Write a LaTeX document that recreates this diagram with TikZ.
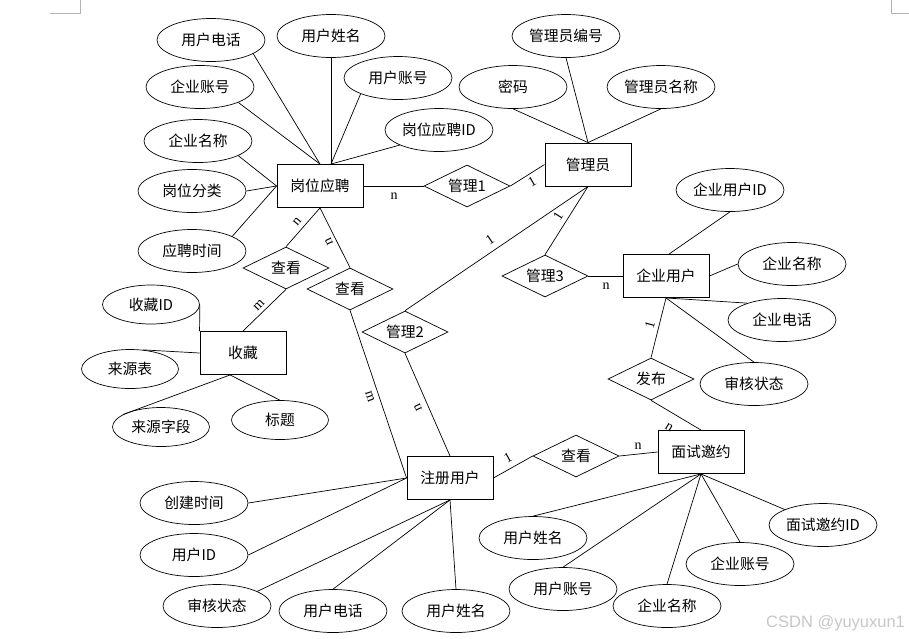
\documentclass[tikz,border=0pt]{standalone}
\usepackage{fontspec}
\newfontfamily\cjk{Noto Sans CJK SC}
\newfontfamily\labfont{Liberation Serif}
\newfontfamily\wmfont{Liberation Sans}
\usetikzlibrary{shapes.geometric}
\begin{document}
\begin{tikzpicture}[x=1pt,y=-1pt,
  txt/.style={font=\cjk\fontsize{14.8}{16}\selectfont},
  ent/.style={txt, draw, line width=0.9pt, rectangle, minimum width=86pt, minimum height=43pt, inner sep=0pt},
  att/.style={txt, draw, line width=0.7pt, ellipse, minimum width=108pt, minimum height=43pt, inner sep=0pt},
  atts/.style={att, minimum width=97pt, minimum height=39pt},
  rel/.style={txt, draw, line width=0.7pt, diamond, aspect=2, minimum width=86pt, minimum height=42pt, inner sep=0pt},
  con/.style={line width=0.7pt},
  lab/.style={font=\labfont\fontsize{14}{14}\selectfont, inner sep=0pt},
  cornermark/.style={draw=black!30, line width=0.6pt}
]
\useasboundingbox (0,0) rectangle (909,638);

% corner marks
\draw[cornermark] (50,13) coordinate (m1) -- (80,13) coordinate (m2) -- (80,0) coordinate (m3);
\draw[cornermark] (891,0) coordinate (m4) -- (891,13) coordinate (m5) -- (909,13) coordinate (m6);

% entities
\node[ent] (gw) at (320,186) {岗位应聘};
\node[ent] (gly) at (588,164.5) {管理员};
\node[ent] (qy) at (666,276) {企业用户};
\node[ent] (sc) at (243,353) {收藏};
\node[ent] (zc) at (450,478) {注册用户};
\node[ent] (ms) at (701,452) {面试邀约};

% relations
\node[rel] (gl1) at (467,186) {管理1};
\node[rel] (ck1) at (286,268) {查看};
\node[rel] (ck2) at (350,289) {查看};
\node[rel] (gl2) at (405,332) {管理2};
\node[rel] (gl3) at (545,276) {管理3};
\node[rel] (fb) at (651,379) {发布};
\node[rel] (ck3) at (576,456) {查看};

% attributes of 岗位应聘
\node[att] (a1) at (211,40) {用户电话};
\node[att] (a2) at (331,36) {用户姓名};
\node[att] (a3) at (398,78) {用户账号};
\node[att] (a4) at (200,87) {企业账号};
\node[att] (a5) at (439,130) {岗位应聘ID};
\node[att] (a6) at (198,141) {企业名称};
\node[att] (a7) at (192,191) {岗位分类};
\node[att] (a8) at (192,251) {应聘时间};

% attributes of 管理员
\node[att] (b1) at (566,36) {管理员编号};
\node[att] (b2) at (513,87) {密码};
\node[att] (b3) at (661,87) {管理员名称};

% attributes of 企业用户
\node[att] (c1) at (730,190) {企业用户ID};
\node[att] (c2) at (792,264) {企业名称};
\node[att] (c3) at (782,320) {企业电话};
\node[att] (c4) at (754,384) {审核状态};

% attributes of 面试邀约
\node[att] (d1) at (533,538) {用户姓名};
\node[att] (d2) at (563,589) {用户账号};
\node[att] (d3) at (667,606) {企业名称};
\node[att] (d4) at (740,564) {企业账号};
\node[att] (d5) at (823,525) {面试邀约ID};

% attributes of 注册用户
\node[att] (e1) at (194,503) {创建时间};
\node[att] (e2) at (194,555) {用户ID};
\node[att] (e3) at (217,606) {审核状态};
\node[att] (e4) at (333,611) {用户电话};
\node[att] (e5) at (456,611) {用户姓名};

% attributes of 收藏
\node[atts] (f1) at (151,304.5) {收藏ID};
\node[atts] (f2) at (130,369) {来源表};
\node[atts] (f3) at (161,427) {来源字段};
\node[atts] (f4) at (280,420) {标题};

% attribute connectors
\draw[con] (a1.-18) -- (gw.north);
\draw[con] (a2) -- ([xshift=11pt]gw.north);
\draw[con] (a3.203) -- ([xshift=11pt]gw.north);
\draw[con] (a5.201) -- ([xshift=11pt]gw.north);
\draw[con] (a4.-22) -- (gw.north);
\draw[con] (a6.-20) -- (gw.west);
\draw[con] (a7.east) -- (gw.west);
\draw[con] (a8.20) -- (gw.west);

\draw[con] (b1.south) -- (gly.north);
\draw[con] (b2.south) -- (gly.north);
\draw[con] (b3.south) -- (gly.north);

\draw[con] (c1.south) -- ([xshift=3pt]qy.north);
\draw[con] (c2.west) -- (qy.east);
\draw[con] (c3.154) -- (qy.south);
\draw[con] (c4.north) -- (qy.south);

\draw[con] (d1.north) -- (ms.south);
\draw[con] (d2.north) -- (ms.south);
\draw[con] (d3.north) -- (ms.south);
\draw[con] (d4.north) -- (ms.south);
\draw[con] (d5.158) -- (ms.south);

\draw[con] (e1.east) -- (zc.west);
\draw[con] (e2.east) -- (zc.west);
\draw[con] (e3.20) -- (zc.south);
\draw[con] (e4.north) -- (zc.south);
\draw[con] (e5.north) -- (zc.south);

\draw[con] (f1.east) -- (sc.north west);
\draw[con] (f2.56) -- (sc.west);
\draw[con] (f3.162) -- ([xshift=-13pt]sc.south);
\draw[con] (f4.north) -- ([xshift=-13pt]sc.south);

% relationship connectors
\draw[con] (gw.east) -- (gl1.west);
\draw[con] (gl1.east) -- (gly.west);
\draw[con] (gw.south) -- (ck1.north);
\draw[con] (gw.south) -- (ck2.north);
\draw[con] (ck1.south) -- (sc.north);
\draw[con] (ck2.south) -- (zc.west);
\draw[con] (gl2.south) -- (zc.north);
\draw[con] (gl2.north) -- (gly.south);
\draw[con] (gly.south) -- (gl3.north);
\draw[con] (gl3.east) -- (qy.west);
\draw[con] (qy.south) -- (fb.north);
\draw[con] (fb.south) -- (ms.north);
\draw[con] (zc.east) -- (ck3.west);
\draw[con] (ck3.east) -- (ms.west);

% cardinality labels
\node[lab] (l1) at (394,196) {n};
\node[lab, rotate=30] (l2) at (532,182) {1};
\node[lab, rotate=34] (l3) at (490,240) {1};
\node[lab, rotate=58] (l4) at (558,216) {1};
\node[lab, rotate=50] (l5) at (297,222) {n};
\node[lab, rotate=115] (l6) at (329,242) {n};
\node[lab, rotate=46] (l7) at (259,305) {m};
\node[lab, rotate=-72] (l8) at (370,397) {m};
\node[lab, rotate=114] (l9) at (418,408) {n};
\node[lab] (l10) at (606,286) {n};
\node[lab, rotate=74] (l11) at (650,325) {1};
\node[lab, rotate=-31] (l12) at (669,427) {n};
\node[lab, rotate=29] (l13) at (508,458) {1};
\node[lab] (l14) at (638,446) {n};

% watermark
\node[font=\wmfont\fontsize{16.5}{17}\selectfont, text=black!22, anchor=west, inner sep=0pt] (wm) at (766,623) {CSDN @yuyuxun1};
\end{tikzpicture}
\end{document}
